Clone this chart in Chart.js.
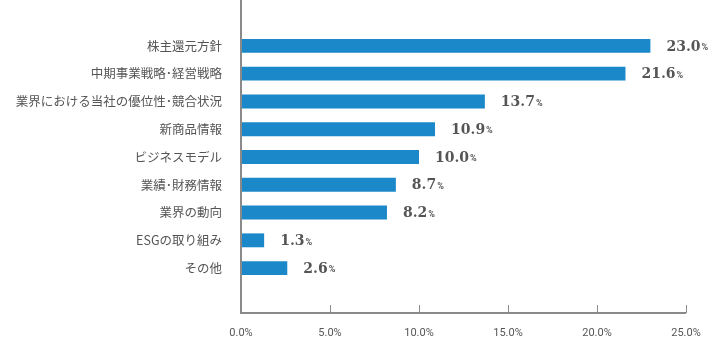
<!DOCTYPE html>
<html>
<head>
<meta charset="utf-8">
<script src="https://cdn.jsdelivr.net/npm/chart.js@4"></script>
<style>
  html, body { margin: 0; padding: 0; background: #fff; }
  #wrap { width: 710px; height: 338px; }
</style>
</head>
<body>
<div id="wrap"><canvas id="chart" width="710" height="338"></canvas></div>
<script>
const categories = ['株主還元方針', '中期事業戦略･経営戦略', '業界における当社の優位性･競合状況', '新商品情報', 'ビジネスモデル', '業績･財務情報', '業界の動向', 'ESGの取り組み', 'その他'];
const shares = [23.0, 21.6, 13.7, 10.9, 10.0, 8.7, 8.2, 1.3, 2.6];
const xTicks = [0, 5, 10, 15, 20, 25];

const axisColor = '#8a8a8a';
const textColor = '#555';

// 軸線（上下にはみ出す）と値ラベル
const axisPlugin = {
  id: 'axisLines',
  afterDraw(chart) {
    const c = chart.ctx;
    const x = chart.scales.x;
    const area = chart.chartArea;
    const axisY = 313;
    c.save();
    c.strokeStyle = axisColor;
    c.lineWidth = 2;
    c.beginPath();
    c.moveTo(area.left, 0);
    c.lineTo(area.left, axisY);
    c.lineTo(x.getPixelForValue(25), axisY);
    c.stroke();
    c.lineWidth = 1;
    xTicks.forEach(t => {
      const px = Math.round(x.getPixelForValue(t)) + 0.5;
      c.beginPath();
      c.moveTo(px, axisY - 8);
      c.lineTo(px, axisY);
      c.stroke();
    });

    const meta = chart.getDatasetMeta(0);
    meta.data.forEach((bar, i) => {
      const num = shares[i].toFixed(1);
      const sx = bar.x + 16;
      const sy = bar.y + 1;
      c.fillStyle = textColor;
      c.textBaseline = 'middle';
      c.textAlign = 'left';
      c.font = 'bold 14px "DejaVu Serif", serif';
      c.fillText(num, sx, sy);
      const w = c.measureText(num).width;
      c.font = 'bold 9px Roboto, "DejaVu Sans", sans-serif';
      c.fillText('%', sx + w + 1, sy + 1);
    });
    c.restore();
  }
};

new Chart(document.getElementById('chart'), {
  type: 'bar',
  data: {
    labels: categories,
    datasets: [{
      data: shares,
      backgroundColor: '#1b88ca',
      borderWidth: 0,
      barPercentage: 0.5,
      categoryPercentage: 1.0
    }]
  },
  options: {
    indexAxis: 'y',
    responsive: false,
    animation: false,
    layout: { padding: { top: 32, right: 24, bottom: 0, left: 0 } },
    plugins: { legend: { display: false }, tooltip: { enabled: false } },
    scales: {
      x: {
        min: 0,
        max: 25,
        grid: { display: false },
        border: { display: false },
        afterBuildTicks(scale) { scale.ticks = xTicks.map(v => ({ value: v })); },
        ticks: {
          padding: 37,
          color: textColor,
          font: { family: 'Roboto, "Noto Sans", sans-serif', size: 11 },
          callback: v => v.toFixed(1) + '%'
        },
        afterFit(scale) {
          scale.height = 56;
          scale.paddingLeft = 0;
          scale.paddingRight = 0;
        }
      },
      y: {
        grid: { display: false },
        border: { display: false },
        ticks: {
          padding: 11,
          color: textColor,
          font: { family: '"Noto Sans CJK JP", sans-serif', size: 12.5 }
        },
        afterFit(scale) { scale.width = 241; }
      }
    }
  },
  plugins: [axisPlugin]
});
</script>
</body>
</html>
